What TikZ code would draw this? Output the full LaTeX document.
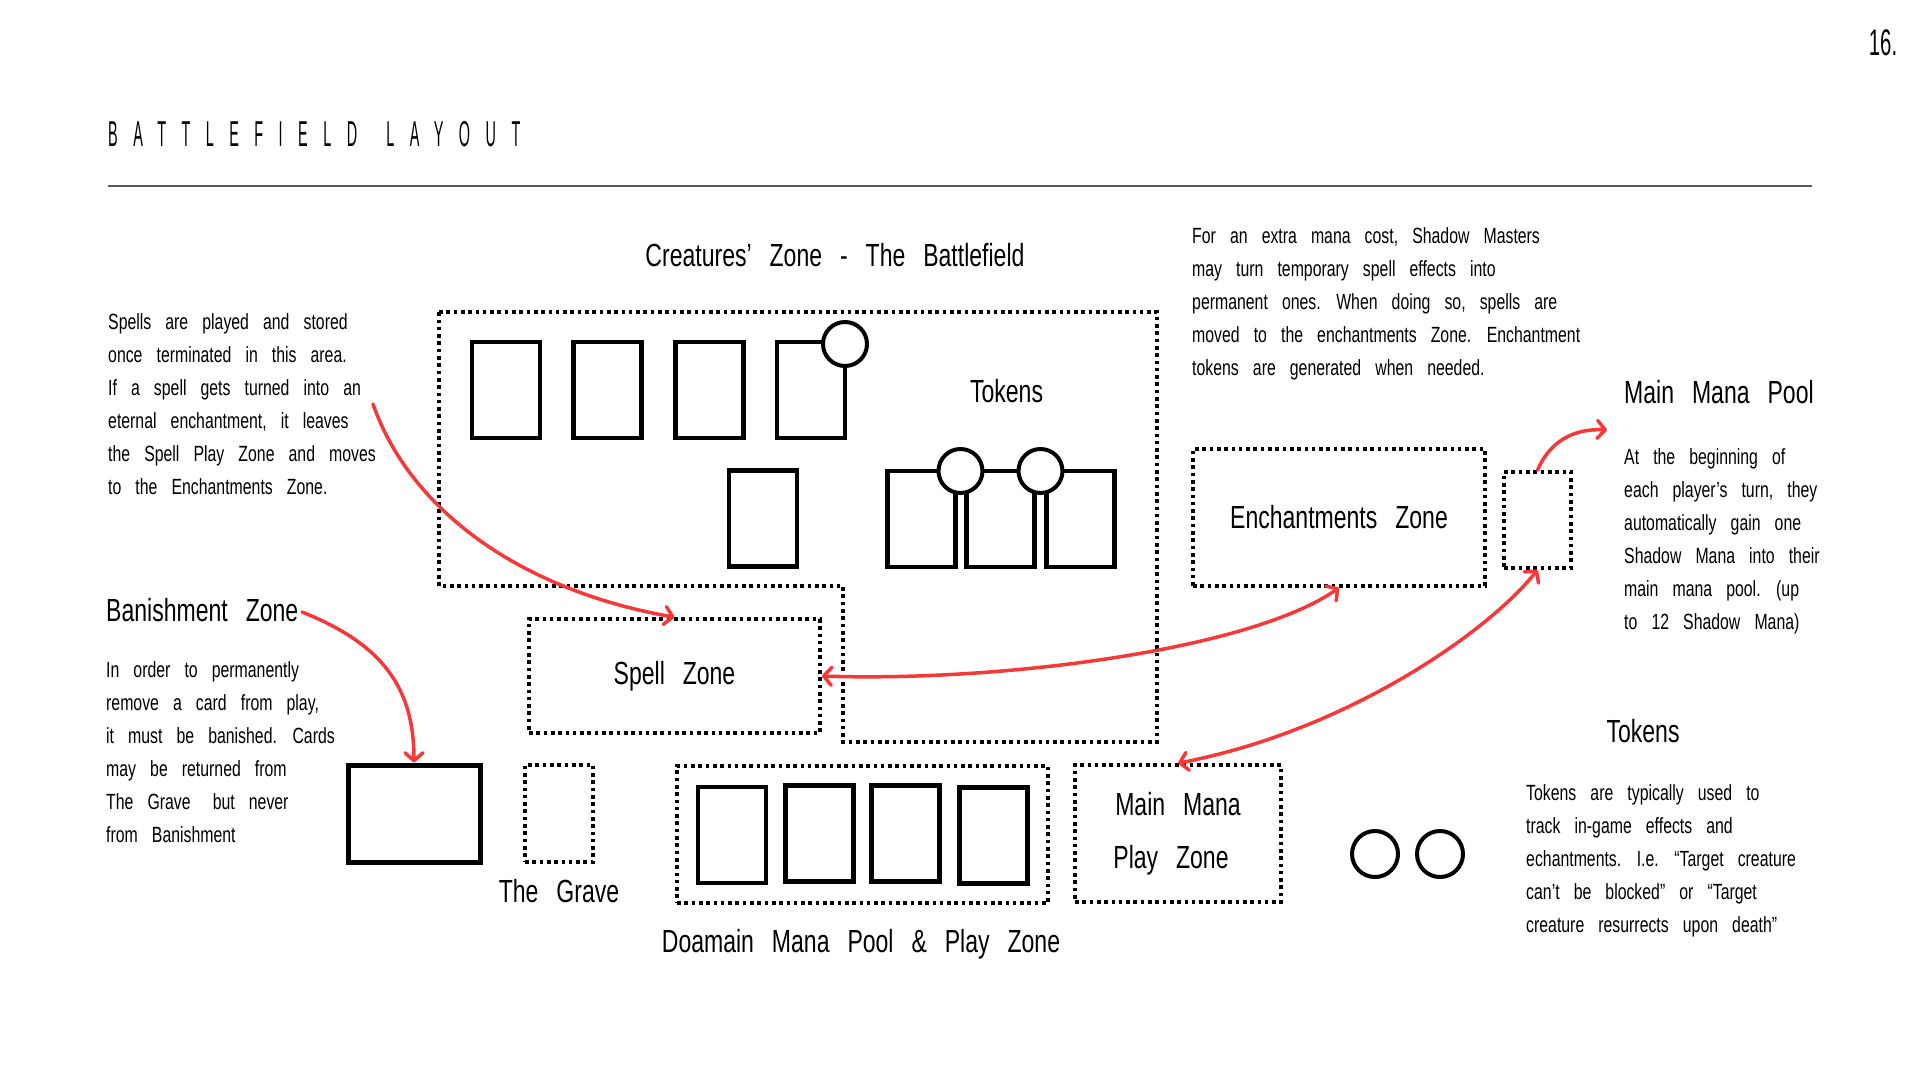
\documentclass[tikz,border=0pt]{standalone}
\usepackage{fontspec}
\setmainfont[FakeStretch=0.72,WordSpace=3.2]{Liberation Sans}
\newfontfamily\headfam[FakeStretch=0.72,WordSpace=2.8]{Liberation Sans}
\newfontfamily\titlefont[FakeStretch=0.4,LetterSpace=43,WordSpace=1.5]{Liberation Sans}
\newfontfamily\numfont[FakeStretch=0.55]{Liberation Sans}
\usetikzlibrary{arrows.meta}
\definecolor{arrowred}{RGB}{246,56,56}
\tikzset{
  dotbox/.style={draw, line width=3.6pt, dash pattern=on 3.6pt off 3.7pt, inner sep=0pt},
  card/.style={draw, line width=4.5pt, fill=white, inner sep=0pt, minimum width=68pt, minimum height=96pt},
  tok/.style={circle, draw, line width=4pt, fill=white, inner sep=0pt, minimum size=44pt},
  rtip/.tip={Straight Barb[length=8pt,width=18pt,round]},
  redarrow/.style={draw=arrowred, line width=3.5pt, line cap=round},
  body/.style={font=\fontsize{22}{33}\selectfont, inner sep=0pt, anchor=base west},
  headfont/.style={font=\headfam\fontsize{32}{40}\selectfont},
  head/.style={headfont, inner sep=0pt, anchor=base},
}
\begin{document}
\begin{tikzpicture}[x=1pt,y=-1pt]
\useasboundingbox (0,0) rectangle (1920,1080);

% page number and title
\node[font=\numfont\fontsize{37}{40}\selectfont, inner sep=0pt, anchor=base] (pg) at (1883,55) {16.};
\node[font=\titlefont\fontsize{36}{40}\selectfont, inner sep=0pt, anchor=base west] (ttl) at (108,146) {BATTLEFIELD LAYOUT};
\coordinate (ruleL) at (108,186);
\coordinate (ruleR) at (1812,186);
\draw[black!65, line width=1.8pt] (ruleL) -- (ruleR);

% battlefield zone
\node[head] (crl) at (835,266) {Creatures’ Zone - The Battlefield};
\draw[dotbox] (439,312) -- (1157,312) -- (1157,742) -- (843,742) -- (843,586) -- (439,586) -- cycle;

\node[card] (c1) at (506,390) {};
\node[card] (c2) at (607.5,390) {};
\node[card] (c3) at (709.5,390) {};
\node[card] (c4) at (811,390) {};
\node[tok] (t1) at (845,344) {};
\node[card] (c5) at (763,518.5) {};
\node[card] (c6) at (921.5,519) {};
\node[card] (c7) at (1000.5,519) {};
\node[card] (c8) at (1080.5,519) {};
\node[tok] (t2) at (960.5,471) {};
\node[tok] (t3) at (1040.5,471) {};
\node[head] (tokl) at (1006.5,402) {Tokens};

% spell zone
\node[dotbox, headfont, minimum width=291pt, minimum height=114pt] (spell) at (674.5,676) {Spell Zone};

% enchantments
\node[dotbox, headfont, minimum width=292pt, minimum height=137pt] (ench) at (1339,517.5) {Enchantments Zone};
\node[dotbox, minimum width=67pt, minimum height=96pt] (mpool) at (1537.5,520) {};

% bottom row
\node[draw, line width=5pt, inner sep=0pt, minimum width=132pt, minimum height=97pt] (banish) at (414,813.5) {};
\node[dotbox, minimum width=68pt, minimum height=97pt] (grave) at (559,813.5) {};
\node[head] (grl) at (559,902) {The Grave};
\node[dotbox, minimum width=371pt, minimum height=137pt] (domain) at (862.5,834.5) {};
\node[card] (d1) at (732,835) {};
\node[card] (d2) at (819.5,833.5) {};
\node[card] (d3) at (905.5,833.5) {};
\node[card] (d4) at (993.5,835.5) {};
\node[head] (dml) at (861,952) {Doamain Mana Pool \& Play Zone};
\node[dotbox, minimum width=206pt, minimum height=137pt] (mplay) at (1178,833.5) {};
\node[head] (mp1) at (1178,815) {Main Mana};
\node[head] (mp2) at (1171,868) {Play Zone};
\node[tok, minimum size=46pt] (t4) at (1375,854) {};
\node[tok, minimum size=46pt] (t5) at (1440,854) {};

% headings on the sides
\node[head, anchor=base west] (banl) at (106,621) {Banishment Zone};
\node[head, anchor=base west] (mmpl) at (1624,403) {Main Mana Pool};
\node[head] (tkh) at (1643,742) {Tokens};

% paragraphs
\foreach \t [count=\i] in {Spells are played and stored,%
once terminated in this area.,%
If a spell gets turned into an,%
{eternal enchantment, it leaves},%
the Spell Play Zone and moves,%
to the Enchantments Zone.}
  \node[body] (spl\i) at (108,{329+33*(\i-1)}) {\t};

\foreach \t [count=\i] in {In order to permanently,%
{remove a card from play,},%
it must be banished. Cards,%
may be returned from,%
The Grave\hspace{8pt} but never,%
from Banishment}
  \node[body] (bnl\i) at (106,{677+33*(\i-1)}) {\t};

\foreach \t [count=\i] in {{For an extra mana cost, Shadow Masters},%
may turn temporary spell effects into,%
{permanent ones. When doing so, spells are},%
moved to the enchantments Zone. Enchantment,%
tokens are generated when needed.}
  \node[body] (enl\i) at (1192,{243+33*(\i-1)}) {\t};

\foreach \t [count=\i] in {At the beginning of,%
{each player’s turn, they},%
automatically gain one,%
Shadow Mana into their,%
main mana pool. (up,%
to 12 Shadow Mana)}
  \node[body] (mml\i) at (1624,{464+33*(\i-1)}) {\t};

\foreach \t [count=\i] in {Tokens are typically used to,%
track in-game effects and,%
echantments. I.e. “Target creature,%
can’t be blocked” or “Target,%
creature resurrects upon death”}
  \node[body] (tkl\i) at (1526,{800+33*(\i-1)}) {\t};

% red arrows
\coordinate (spA) at (373,404);
\draw[redarrow, -rtip] (spA) .. controls (410,510) and (520,590) .. (spell.north);
\coordinate (banA) at (302,612);
\draw[redarrow, -rtip] (banA) .. controls (385,645) and (414,690) .. (banish.north);
\draw[redarrow, rtip-rtip] (spell.east) .. controls (1000,682) and (1250,650) .. (ench.south);
\draw[redarrow, rtip-rtip] (mpool.south) .. controls (1490,630) and (1350,730) .. (mplay.north);
\coordinate (mmpA) at (1607,430);
\draw[redarrow, -rtip] (mpool.north) .. controls (1548,445) and (1570,428) .. (mmpA);
\end{tikzpicture}
\end{document}
